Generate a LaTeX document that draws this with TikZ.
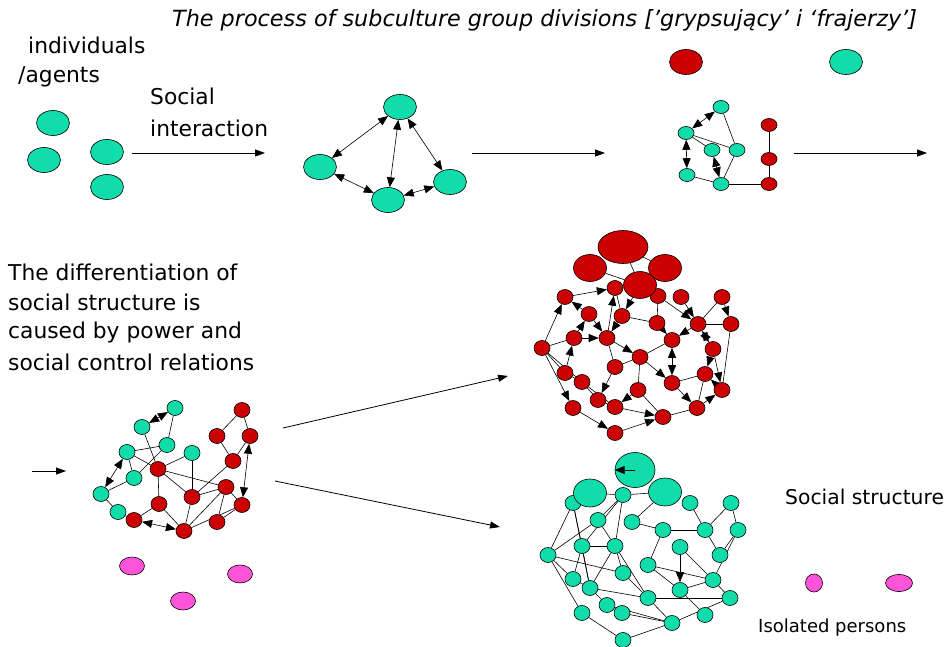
\documentclass[tikz,border=0pt]{standalone}
\usepackage{fontspec}
\setmainfont{DejaVu Sans}
\usetikzlibrary{shapes.geometric,arrows.meta,backgrounds}
\definecolor{tealc}{RGB}{16,221,170}
\definecolor{redc}{RGB}{204,0,0}
\definecolor{pinkc}{RGB}{255,84,218}
\tikzset{
  nd/.style={draw=black, line width=0.6pt, inner sep=0pt, ellipse},
  gbig/.style={nd, fill=tealc, minimum width=33pt, minimum height=25pt},
  rbig/.style={nd, fill=redc, minimum width=33pt, minimum height=25pt},
  gs/.style={nd, fill=tealc, minimum width=16pt, minimum height=13pt},
  rs/.style={nd, fill=redc, minimum width=16pt, minimum height=13pt},
  gc/.style={nd, fill=tealc, minimum width=16pt, minimum height=15pt},
  rc/.style={nd, fill=redc, minimum width=16pt, minimum height=15pt},
  pn/.style={nd, fill=pinkc, minimum width=25pt, minimum height=18pt},
  lbl/.style={inner sep=0pt, anchor=west, font=\fontsize{21.8}{26}\selectfont},
  edge/.style={line width=0.6pt, black},
  tipa/.style={edge, -{Triangle[length=10pt,width=8pt]}},
  tipb/.style={edge, {Triangle[length=10pt,width=8pt]}-{Triangle[length=10pt,width=8pt]}},
  flow/.style={line width=0.8pt, -{Triangle[length=10pt,width=7pt]}},
}
\begin{document}
\begin{tikzpicture}[x=1pt,y=-1pt]
\useasboundingbox (0,0) rectangle (948,647);

% ---------- texts
\node[lbl, font=\fontsize{22.3}{26}\selectfont\itshape] (title) at (172,20) {The process of subculture group divisions ['grypsujący’ i ‘frajerzy’]};
\node[lbl] (tind) at (28,45) {individuals};
\node[lbl] (tag) at (18,77) {/agents};
\node[lbl] (tsoc) at (150,96) {Social};
\node[lbl] (tint) at (150,128) {interaction};
\node[lbl] (d1) at (8,272) {The differentiation of};
\node[lbl] (d2) at (8,302) {social structure is};
\node[lbl] (d3) at (8,332) {caused by power and};
\node[lbl] (d4) at (8,362) {social control relations};
\node[lbl, font=\fontsize{20.3}{24}\selectfont] (tss) at (785,497) {Social structure};
\node[lbl, font=\fontsize{18}{21}\selectfont] (tiso) at (758,628) {Isolated persons};

% ---------- top row
\node[gbig] (i1) at (53,123) {};
\node[gbig] (i2) at (44,160) {};
\node[gbig] (i3) at (107,152) {};
\node[gbig] (i4) at (107,187) {};

\node[gbig] (n1) at (400,107) {};
\node[gbig] (n2) at (320,167) {};
\node[gbig] (n3) at (388,200) {};
\node[gbig] (n4) at (450,182) {};

\node[rbig] (R0) at (686,62) {};
\node[gbig] (G0) at (846,62) {};

\node[gs] (s1) at (721,107) {};
\node[gs] (s2) at (686,133) {};
\node[gs] (s3) at (712,150) {};
\node[gs] (s4) at (737,150) {};
\node[gs] (s5) at (687,175) {};
\node[gs] (s6) at (721,184) {};
\node[rs] (q1) at (769,125) {};
\node[rs] (q2) at (769,159) {};
\node[rs] (q3) at (769,184) {};

\coordinate (f1a) at (132,153); \coordinate (f1b) at (265,153);
\coordinate (f2a) at (472,153); \coordinate (f2b) at (605,153);
\coordinate (f3a) at (794,153); \coordinate (f3b) at (927,153);
\coordinate (f4a) at (32,471);  \coordinate (f4b) at (66,471);
\coordinate (f5a) at (283,428); \coordinate (f5b) at (508,376);
\coordinate (f6a) at (275,481); \coordinate (f6b) at (500,527);

% ---------- bottom-left network
\node[gc] (t1) at (175,408) {};
\node[gc] (t2) at (142,427) {};
\node[gc] (t3) at (167,445) {};
\node[gc] (t4) at (127,452) {};
\node[gc] (t5) at (192,453) {};
\node[gc] (t6) at (134,478) {};
\node[gc] (t7) at (101,494) {};
\node[gc] (t8) at (118,512) {};
\node[rc] (r1) at (242,410) {};
\node[rc] (r2) at (217,436) {};
\node[rc] (r3) at (250,436) {};
\node[rc] (r4) at (233,461) {};
\node[rc] (r5) at (158,469) {};
\node[rc] (r6) at (226,487) {};
\node[rc] (r7) at (192,497) {};
\node[rc] (r8) at (242,505) {};
\node[rc] (r9) at (159,504) {};
\node[rc] (r10) at (134,520) {};
\node[rc] (r11) at (217,522) {};
\node[rc] (r12) at (184,531) {};

\node[pn] (p1) at (132,566) {};
\node[pn] (p2) at (240,574) {};
\node[pn] (p3) at (183,601) {};
\node[pn, minimum width=17pt, minimum height=18pt] (p4) at (814,583) {};
\node[pn, minimum width=27pt, minimum height=17pt] (p5) at (899,583) {};

% ---------- red big network
\node[rc] (a1) at (565,297) {};
\node[rc] (a2) at (615,288) {};
\node[rc] (a3) at (658,296) {};
\node[rc] (a4) at (681,297) {};
\node[rc] (a5) at (722,297) {};
\node[rc] (a6) at (589,314) {};
\node[rc] (a7) at (622,316) {};
\node[rc] (a8) at (657,323) {};
\node[rc] (a9) at (698,324) {};
\node[rc] (a10) at (731,324) {};
\node[rc] (a11) at (574,338) {};
\node[rc] (a12) at (607,338) {};
\node[rc] (a13) at (672,340) {};
\node[rc] (a14) at (713,349) {};
\node[rc] (a15) at (542,348) {};
\node[rc] (a16) at (640,357) {};
\node[rc] (a17) at (615,367) {};
\node[rc] (a18) at (565,373) {};
\node[rc] (a19) at (705,374) {};
\node[rc] (a20) at (582,382) {};
\node[rc] (a21) at (672,383) {};
\node[rc] (a22) at (722,390) {};
\node[rc] (a23) at (638,390) {};
\node[rc] (a24) at (598,400) {};
\node[rc] (a25) at (615,407) {};
\node[rc] (a26) at (573,408) {};
\node[rc] (a27) at (697,408) {};
\node[rc] (a28) at (663,417) {};
\node[rc] (a29) at (615,433) {};
\node[rbig, minimum width=50pt, minimum height=33pt] (B1) at (623,247) {};
\node[rbig, minimum height=27pt] (B2) at (590,268) {};
\node[rbig, minimum height=27pt] (B3) at (665,268) {};
\node[rbig, minimum height=27pt] (B4) at (640,285) {};

% ---------- teal big network
\node[gc] (b1) at (573,503) {};
\node[gc] (b2) at (623,495) {};
\node[gc] (b3) at (690,503) {};
\node[gc] (b4) at (731,503) {};
\node[gc] (b5) at (598,520) {};
\node[gc] (b6) at (632,522) {};
\node[gc] (b7) at (663,530) {};
\node[gc] (b8) at (705,530) {};
\node[gc] (b9) at (738,530) {};
\node[gc] (b10) at (548,555) {};
\node[gc] (b11) at (582,546) {};
\node[gc] (b12) at (615,546) {};
\node[gc] (b13) at (680,547) {};
\node[gc] (b14) at (720,555) {};
\node[gc] (b15) at (648,565) {};
\node[gc] (b16) at (623,573) {};
\node[gc] (b17) at (573,579) {};
\node[gc] (b18) at (713,580) {};
\node[gc] (b19) at (590,588) {};
\node[gc] (b20) at (680,590) {};
\node[gc] (b21) at (648,598) {};
\node[gc] (b22) at (730,598) {};
\node[gc] (b23) at (607,605) {};
\node[gc] (b24) at (622,613) {};
\node[gc] (b25) at (582,613) {};
\node[gc] (b26) at (705,615) {};
\node[gc] (b27) at (672,623) {};
\node[gc] (b28) at (623,640) {};
\node[gbig, minimum width=40pt, minimum height=35pt] (C1) at (635,470) {};
\node[gbig, minimum height=28pt] (C2) at (590,493) {};
\node[gbig, minimum height=28pt] (C3) at (665,492) {};

% ---------- connectors
\begin{scope}[on background layer]
\fill[white] (0,0) rectangle (948,647);
\draw[flow] (f1a) -- (f1b);
\draw[flow] (f2a) -- (f2b);
\draw[flow] (f3a) -- (f3b);
\draw[flow] (f4a) -- (f4b);
\draw[flow] (f5a) -- (f5b);
\draw[flow] (f6a) -- (f6b);

\foreach \u/\v in {n1/n2,n1/n3,n1/n4,n2/n3,n3/n4,s1/s2,s2/s5,s3/s6}
  \draw[tipb] (\u) -- (\v);
\foreach \u/\v in {s1/s4,s2/s4,s2/s3,s4/s6,s5/s6,s6/q3,q1/q2,q2/q3}
  \draw[edge] (\u) -- (\v);

% bottom-left
\foreach \u/\v in {t1/t3,t4/t3,t2/r5,t4/r5,t4/t6,t7/t6,t7/t8,t8/r10,t3/t6,t5/r5,t5/r7,r5/r7,r5/r6,r5/r9,r1/r2,r1/r3,r2/r4,r3/r4,r4/r7,r6/r7,r6/r8,r6/r11,r7/r12,r9/r10,r9/r12,r11/r8,r12/r6,r12/r8}
  \draw[edge] (\u) -- (\v);
\foreach \u/\v in {t2/t1,t7/t4,r3/r8,r10/r12}
  \draw[tipb] (\u) -- (\v);

% red network
\foreach \u/\v in {B2/B4,B1/B4,B1/B3,a15/a11,a15/a18,a15/a20,a18/a20,a20/a24,a20/a25,a16/a23,a16/a17,a19/a21,a28/a27,a10/a22,a5/a9,a24/a25,a23/a28,a7/a8,a17/a12,a3/a8,a2/a7,a9/a10,a19/a27,a13/a16}
  \draw[edge] (\u) -- (\v);
\foreach \u/\v in {B4/a7,a1/a2,a12/a2,a15/a1,a6/a1,a11/a6,a11/a12,a12/a16,a3/a9,a9/a13,a5/a10,a16/a21,a22/a19,a14/a19,a23/a25,a25/a28,a26/a29,a29/a28,a27/a22,a21/a27,a15/a26,a8/a13,a4/a9,a18/a11,a17/a24,a6/a12,a7/a12,a14/a22}
  \draw[tipa] (\u) -- (\v);
\foreach \u/\v in {a13/a21,a9/a14}
  \draw[tipb] (\u) -- (\v);

% teal network
\foreach \u/\v in {C2/b2,b2/C3,b1/b10,b1/b11,b1/b19,b2/b5,b2/b12,b2/b11,b5/b10,b5/b12,b6/b7,b6/C3,b7/b8,b3/b8,b8/b14,b4/b9,b4/b8,b9/b18,b14/b9,b10/b16,b10/b17,b10/b25,b11/b12,b11/b19,b11/b17,b12/b21,b12/b16,b12/b19,b15/b7,b15/b18,b15/b20,b16/b21,b17/b19,b13/b18,b18/b20,b18/b22,b19/b21,b19/b23,b20/b26,b21/b27,b23/b27,b24/b27,b21/b22,b27/b22,b25/b28,b27/b28}
  \draw[edge] (\u) -- (\v);
\draw[tipa] (b13) -- (b20);
\end{scope}
\draw[tipa] (C1.center) -- (C1.west);
\end{tikzpicture}
\end{document}
